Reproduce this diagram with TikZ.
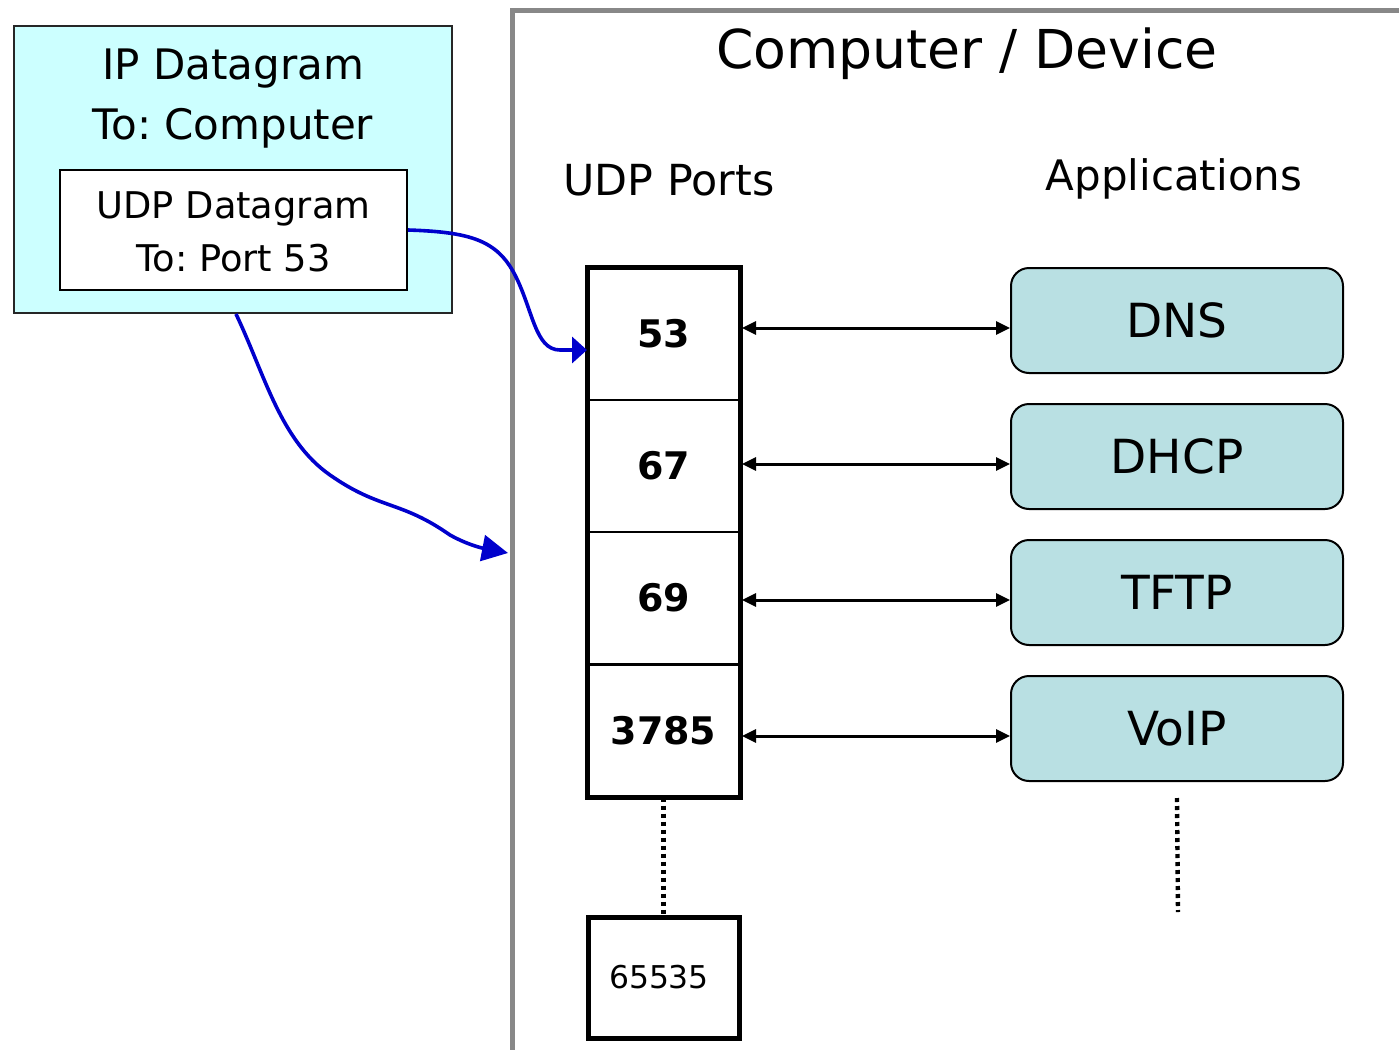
\documentclass[tikz,border=0pt]{standalone}
\usepackage{fontspec}
\setmainfont{DejaVu Sans}
\usetikzlibrary{arrows.meta}
\frenchspacing
\definecolor{ipfill}{HTML}{CCFFFF}
\definecolor{appfill}{HTML}{B9E0E3}
\definecolor{linkblue}{HTML}{0000CC}
\definecolor{framegray}{HTML}{888888}
\newcommand{\fs}[1]{\fontsize{#1}{#1}\selectfont}
\tikzset{
  ipbox/.style={draw=black!85, line width=1pt, fill=ipfill, inner sep=0pt,
    minimum width=219pt, minimum height=143.5pt},
  udpbox/.style={draw=black, line width=1pt, fill=white, inner sep=0pt,
    minimum width=173.5pt, minimum height=60pt},
  portrow/.style={draw=black, line width=1pt, inner sep=0pt,
    minimum width=75.5pt, minimum height=66pt, font=\fs{19}\bfseries},
  portlast/.style={draw=black, line width=2.5pt, inner sep=0pt,
    minimum width=75.5pt, minimum height=60.5pt, font=\fs{15.7}},
  appbox/.style={draw=black, line width=1pt, fill=appfill, rounded corners=9pt,
    inner sep=0pt, minimum width=166pt, minimum height=52.5pt, font=\fs{23.5}},
  biarrow/.style={line width=1.5pt, {Triangle[length=7pt,width=6.5pt]}-{Triangle[length=7pt,width=6.5pt]}},
  dotline/.style={line width=2.2pt, dash pattern=on 2pt off 2pt},
  bluelink/.style={draw=linkblue, line width=1.8pt},
}
\begin{document}
\begin{tikzpicture}[x=0.5pt, y=-0.5pt]
\useasboundingbox (0,0) rectangle (1399,1050);

% device frame, running off the right and bottom edges
\draw[framegray, line width=2.5pt] (512,1050) -- (512,10) -- (1399,10);

% incoming IP datagram with its UDP payload
\node[ipbox] (ip) at (233,169.5) {};
\node[udpbox] (udp) at (233.5,230) {};
\node[anchor=base, font=\fs{21}] (iptitle) at (233,79) {IP Datagram};
\node[anchor=base, font=\fs{21}] (ipto) at (233,139) {To: Computer};
\node[anchor=base, font=\fs{18.4}] (udptitle) at (233.5,218) {UDP Datagram};
\node[anchor=base, font=\fs{18.4}] (udpto) at (233.5,271) {To: Port 53};

% headings
\node[anchor=base, font=\fs{26.8}] (devtitle) at (967,68) {Computer / Device};
\node[anchor=base, font=\fs{21.4}] (porthead) at (669,195) {UDP Ports};
\node[anchor=base, font=\fs{21}] (apphead) at (1174,190) {Applications};

% port column
\node[portrow] (p53) at (663.5,334) {53};
\node[portrow] (p67) at (663.5,466) {67};
\node[portrow] (p69) at (663.5,598) {69};
\node[portrow] (p3785) at (663.5,730.5) {3785};
\draw[line width=2.5pt] (p53.north west) rectangle (p3785.south east);
\node[portlast] (pmax) at (663.5,977.5) {\hspace*{-4.5pt}65535};
\draw[dotline] (p3785.south) -- (pmax.north);

% applications
\node[appbox] (dns) at (1177,320.5) {DNS};
\node[appbox] (dhcp) at (1177,456.5) {DHCP};
\node[appbox] (tftp) at (1177,592.5) {TFTP};
\node[appbox] (voip) at (1177,728.5) {VoIP};
\coordinate (appmore) at (1178,912);
\draw[dotline] ([yshift=-8pt]voip.south) -- (appmore);

% port <-> application links
\foreach \p/\a in {p53/dns, p67/dhcp, p69/tftp, p3785/voip}{
  \coordinate (l\a) at ([yshift=-3.75pt]\a.west);
  \draw[biarrow, shorten <=1pt] (l\a -| \p.east) -- (l\a);
}

% delivery paths
\draw[bluelink, -{Triangle[length=7.5pt,width=13pt]}]
  (udp.east) .. controls (470,232) and (497,240) .. (515,275)
  .. controls (533,310) and (535,350) .. (560,350) -- ([yshift=-8pt]p53.west);
\coordinate (framehit) at (508,553);
\draw[bluelink, -{Triangle[length=13pt,width=13pt]}]
  ([xshift=1.5pt]ip.south) .. controls (265,375) and (280,440) .. (330,475)
  .. controls (380,510) and (400,500) .. (450,535)
  .. controls (468,545) and (482,548) .. (framehit);
\end{tikzpicture}
\end{document}
